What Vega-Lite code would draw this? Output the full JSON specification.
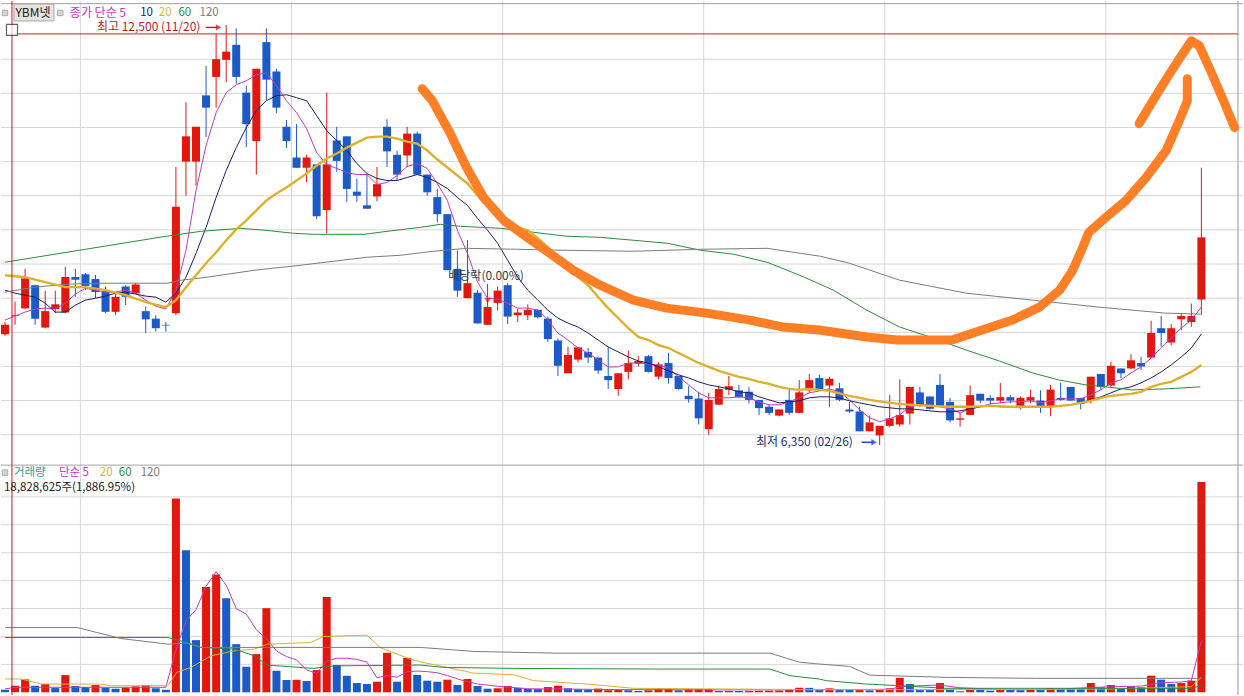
{
"$schema":"https://vega.github.io/schema/vega-lite/v6.json",
"width":1244,"height":696,"autosize":{"type":"fit","contains":"padding"},"padding":0,"background":"#ffffff",
"config":{"view":{"stroke":null},"axis":{"disable":true},"scale":{"continuousPadding":0}},
"resolve":{"scale":{"y":"independent"}},
"datasets":{
"k":[
{"i":0,"o":7970,"h":8150,"l":7950,"c":8110,"v":230000,"vd":"dn"},
{"i":1,"o":8240,"h":8450,"l":8110,"c":8250,"v":590000,"vd":"up"},
{"i":2,"o":8350,"h":8930,"l":8340,"c":8790,"v":1160000,"vd":"up"},
{"i":3,"o":8690,"h":8700,"l":8110,"c":8200,"v":590000,"vd":"dn"},
{"i":4,"o":8070,"h":8610,"l":8060,"c":8310,"v":740000,"vd":"up"},
{"i":5,"o":8340,"h":8610,"l":8280,"c":8410,"v":380000,"vd":"dn"},
{"i":6,"o":8290,"h":8960,"l":8280,"c":8810,"v":1540000,"vd":"up"},
{"i":7,"o":8810,"h":8930,"l":8520,"c":8770,"v":560000,"vd":"dn"},
{"i":8,"o":8850,"h":8870,"l":8620,"c":8680,"v":470000,"vd":"dn"},
{"i":9,"o":8780,"h":8840,"l":8500,"c":8590,"v":650000,"vd":"up"},
{"i":10,"o":8600,"h":8670,"l":8280,"c":8300,"v":410000,"vd":"dn"},
{"i":11,"o":8300,"h":8590,"l":8250,"c":8520,"v":320000,"vd":"dn"},
{"i":12,"o":8670,"h":8690,"l":8400,"c":8520,"v":410000,"vd":"up"},
{"i":13,"o":8570,"h":8720,"l":8570,"c":8700,"v":540000,"vd":"up"},
{"i":14,"o":8310,"h":8380,"l":7990,"c":8190,"v":650000,"vd":"up"},
{"i":15,"o":8200,"h":8250,"l":8010,"c":8060,"v":360000,"vd":"dn"},
{"i":16,"o":8110,"h":8150,"l":8010,"c":8100,"v":230000,"vd":"dn"},
{"i":17,"o":8280,"h":10420,"l":8250,"c":9840,"v":17350000,"vd":"up"},
{"i":18,"o":10500,"h":11370,"l":10000,"c":10870,"v":12710000,"vd":"dn"},
{"i":19,"o":10500,"h":11010,"l":10150,"c":11010,"v":4670000,"vd":"dn"},
{"i":20,"o":11470,"h":11900,"l":10860,"c":11290,"v":9430000,"vd":"up"},
{"i":21,"o":11740,"h":12370,"l":11290,"c":12000,"v":10560000,"vd":"up"},
{"i":22,"o":11990,"h":12500,"l":11660,"c":12110,"v":8420000,"vd":"dn"},
{"i":23,"o":12210,"h":12450,"l":11640,"c":11740,"v":4310000,"vd":"dn"},
{"i":24,"o":11510,"h":11610,"l":10710,"c":11050,"v":2290000,"vd":"dn"},
{"i":25,"o":10800,"h":11860,"l":10310,"c":11860,"v":3420000,"vd":"up"},
{"i":26,"o":12250,"h":12450,"l":11400,"c":11700,"v":7530000,"vd":"up"},
{"i":27,"o":11820,"h":11860,"l":11210,"c":11290,"v":1930000,"vd":"dn"},
{"i":28,"o":11010,"h":11110,"l":10700,"c":10800,"v":1100000,"vd":"dn"},
{"i":29,"o":10560,"h":11050,"l":10410,"c":10410,"v":1120000,"vd":"up"},
{"i":30,"o":10410,"h":10600,"l":10200,"c":10560,"v":1010000,"vd":"dn"},
{"i":31,"o":10460,"h":10460,"l":9660,"c":9700,"v":1990000,"vd":"up"},
{"i":32,"o":9790,"h":11510,"l":9450,"c":10460,"v":8540000,"vd":"up"},
{"i":33,"o":10810,"h":11010,"l":10350,"c":10510,"v":2440000,"vd":"dn"},
{"i":34,"o":10870,"h":10870,"l":9910,"c":10100,"v":1480000,"vd":"dn"},
{"i":35,"o":10060,"h":10250,"l":9910,"c":10000,"v":830000,"vd":"dn"},
{"i":36,"o":9860,"h":10320,"l":9810,"c":9810,"v":740000,"vd":"dn"},
{"i":37,"o":9990,"h":10420,"l":9920,"c":10170,"v":950000,"vd":"up"},
{"i":38,"o":11010,"h":11120,"l":10420,"c":10650,"v":3540000,"vd":"up"},
{"i":39,"o":10600,"h":10660,"l":10220,"c":10310,"v":950000,"vd":"dn"},
{"i":40,"o":10590,"h":11010,"l":10420,"c":10910,"v":3090000,"vd":"up"},
{"i":41,"o":10910,"h":10940,"l":10310,"c":10310,"v":1550000,"vd":"dn"},
{"i":42,"o":10310,"h":10310,"l":10000,"c":10050,"v":1040000,"vd":"dn"},
{"i":43,"o":9980,"h":10100,"l":9610,"c":9730,"v":950000,"vd":"dn"},
{"i":44,"o":9730,"h":9730,"l":8910,"c":8910,"v":1130000,"vd":"up"},
{"i":45,"o":8930,"h":9200,"l":8520,"c":8610,"v":650000,"vd":"dn"},
{"i":46,"o":8500,"h":9350,"l":8500,"c":8720,"v":1190000,"vd":"up"},
{"i":47,"o":8580,"h":8620,"l":8130,"c":8130,"v":560000,"vd":"dn"},
{"i":48,"o":8110,"h":8710,"l":8110,"c":8370,"v":320000,"vd":"dn"},
{"i":49,"o":8430,"h":8670,"l":8320,"c":8610,"v":360000,"vd":"up"},
{"i":50,"o":8690,"h":8720,"l":8120,"c":8230,"v":560000,"vd":"up"},
{"i":51,"o":8250,"h":8350,"l":8150,"c":8290,"v":380000,"vd":"dn"},
{"i":52,"o":8250,"h":8410,"l":8180,"c":8330,"v":300000,"vd":"dn"},
{"i":53,"o":8330,"h":8330,"l":8200,"c":8220,"v":290000,"vd":"dn"},
{"i":54,"o":8200,"h":8230,"l":7860,"c":7900,"v":470000,"vd":"up"},
{"i":55,"o":7880,"h":7910,"l":7360,"c":7510,"v":590000,"vd":"up"},
{"i":56,"o":7400,"h":7790,"l":7400,"c":7670,"v":360000,"vd":"dn"},
{"i":57,"o":7600,"h":7780,"l":7560,"c":7780,"v":270000,"vd":"dn"},
{"i":58,"o":7710,"h":7770,"l":7550,"c":7630,"v":230000,"vd":"dn"},
{"i":59,"o":7630,"h":7630,"l":7390,"c":7440,"v":330000,"vd":"up"},
{"i":60,"o":7360,"h":7790,"l":7170,"c":7300,"v":190000,"vd":"up"},
{"i":61,"o":7170,"h":7400,"l":7070,"c":7400,"v":200000,"vd":"up"},
{"i":62,"o":7420,"h":7730,"l":7310,"c":7550,"v":180000,"vd":"dn"},
{"i":63,"o":7540,"h":7650,"l":7500,"c":7580,"v":120000,"vd":"dn"},
{"i":64,"o":7650,"h":7670,"l":7410,"c":7420,"v":180000,"vd":"up"},
{"i":65,"o":7350,"h":7560,"l":7310,"c":7530,"v":270000,"vd":"up"},
{"i":66,"o":7550,"h":7700,"l":7250,"c":7330,"v":280000,"vd":"up"},
{"i":67,"o":7360,"h":7360,"l":7160,"c":7170,"v":180000,"vd":"dn"},
{"i":68,"o":7070,"h":7210,"l":6970,"c":7020,"v":270000,"vd":"up"},
{"i":69,"o":7030,"h":7130,"l":6650,"c":6740,"v":280000,"vd":"up"},
{"i":70,"o":6580,"h":7110,"l":6500,"c":7010,"v":290000,"vd":"up"},
{"i":71,"o":6940,"h":7220,"l":6940,"c":7170,"v":120000,"vd":"dn"},
{"i":72,"o":7160,"h":7360,"l":7080,"c":7210,"v":130000,"vd":"up"},
{"i":73,"o":7150,"h":7230,"l":7040,"c":7050,"v":120000,"vd":"dn"},
{"i":74,"o":7130,"h":7200,"l":6960,"c":7010,"v":130000,"vd":"up"},
{"i":75,"o":7010,"h":7010,"l":6790,"c":6890,"v":140000,"vd":"up"},
{"i":76,"o":6910,"h":6940,"l":6790,"c":6820,"v":150000,"vd":"up"},
{"i":77,"o":6780,"h":6870,"l":6770,"c":6870,"v":160000,"vd":"up"},
{"i":78,"o":7010,"h":7160,"l":6790,"c":6820,"v":270000,"vd":"up"},
{"i":79,"o":6820,"h":7300,"l":6820,"c":7120,"v":410000,"vd":"up"},
{"i":80,"o":7150,"h":7390,"l":7110,"c":7300,"v":400000,"vd":"dn"},
{"i":81,"o":7330,"h":7380,"l":7160,"c":7170,"v":270000,"vd":"dn"},
{"i":82,"o":7220,"h":7350,"l":6910,"c":7320,"v":357000,"vd":"up"},
{"i":83,"o":7180,"h":7260,"l":6990,"c":7010,"v":270000,"vd":"dn"},
{"i":84,"o":6870,"h":6980,"l":6820,"c":6840,"v":240000,"vd":"dn"},
{"i":85,"o":6840,"h":6910,"l":6550,"c":6550,"v":270000,"vd":"up"},
{"i":86,"o":6550,"h":6780,"l":6550,"c":6680,"v":180000,"vd":"dn"},
{"i":87,"o":6490,"h":6630,"l":6350,"c":6630,"v":290000,"vd":"up"},
{"i":88,"o":6630,"h":7080,"l":6610,"c":6740,"v":357000,"vd":"up"},
{"i":89,"o":6650,"h":7310,"l":6620,"c":6790,"v":1300000,"vd":"up"},
{"i":90,"o":6810,"h":7200,"l":6650,"c":7200,"v":741000,"vd":"dn"},
{"i":91,"o":7120,"h":7200,"l":6910,"c":6920,"v":232000,"vd":"dn"},
{"i":92,"o":7060,"h":7060,"l":6870,"c":6880,"v":205000,"vd":"dn"},
{"i":93,"o":7230,"h":7390,"l":6910,"c":6910,"v":830000,"vd":"up"},
{"i":94,"o":6980,"h":7040,"l":6680,"c":6710,"v":295000,"vd":"dn"},
{"i":95,"o":6720,"h":6820,"l":6620,"c":6740,"v":90000,"vd":"dn"},
{"i":96,"o":6790,"h":7220,"l":6790,"c":7080,"v":295000,"vd":"up"},
{"i":97,"o":7100,"h":7100,"l":6960,"c":7000,"v":205000,"vd":"dn"},
{"i":98,"o":7040,"h":7080,"l":6940,"c":7000,"v":150000,"vd":"dn"},
{"i":99,"o":7000,"h":7260,"l":6960,"c":7050,"v":295000,"vd":"up"},
{"i":100,"o":7050,"h":7080,"l":6960,"c":7000,"v":205000,"vd":"dn"},
{"i":101,"o":6920,"h":7060,"l":6870,"c":7040,"v":190000,"vd":"dn"},
{"i":102,"o":7000,"h":7160,"l":6960,"c":7050,"v":220000,"vd":"up"},
{"i":103,"o":7000,"h":7150,"l":6820,"c":6900,"v":200000,"vd":"dn"},
{"i":104,"o":6910,"h":7230,"l":6770,"c":7160,"v":380000,"vd":"up"},
{"i":105,"o":7040,"h":7260,"l":7000,"c":7010,"v":295000,"vd":"dn"},
{"i":106,"o":7200,"h":7200,"l":7000,"c":7000,"v":290000,"vd":"dn"},
{"i":107,"o":7040,"h":7040,"l":6870,"c":6950,"v":280000,"vd":"dn"},
{"i":108,"o":7000,"h":7350,"l":6960,"c":7350,"v":830000,"vd":"up"},
{"i":109,"o":7390,"h":7390,"l":7160,"c":7200,"v":446000,"vd":"dn"},
{"i":110,"o":7220,"h":7570,"l":7200,"c":7510,"v":650000,"vd":"up"},
{"i":111,"o":7470,"h":7470,"l":7330,"c":7400,"v":295000,"vd":"dn"},
{"i":112,"o":7470,"h":7680,"l":7460,"c":7590,"v":536000,"vd":"up"},
{"i":113,"o":7550,"h":7640,"l":7450,"c":7500,"v":446000,"vd":"dn"},
{"i":114,"o":7630,"h":8170,"l":7620,"c":7990,"v":1490000,"vd":"up"},
{"i":115,"o":8060,"h":8240,"l":7790,"c":7990,"v":1130000,"vd":"dn"},
{"i":116,"o":7850,"h":8120,"l":7810,"c":8060,"v":741000,"vd":"dn"},
{"i":117,"o":8190,"h":8270,"l":8030,"c":8240,"v":830000,"vd":"up"},
{"i":118,"o":8150,"h":8420,"l":8080,"c":8240,"v":1040000,"vd":"up"},
{"i":119,"o":8480,"h":10410,"l":8250,"c":9390,"v":18828625,"vd":"up"}
],
"ma":[
{"s":"m5","i":0,"p":8179},{"s":"m5","i":1,"p":8237},{"s":"m5","i":2,"p":8296},{"s":"m5","i":3,"p":8340},{"s":"m5","i":4,"p":8354},{"s":"m5","i":5,"p":8340},{"s":"m5","i":6,"p":8427},{"s":"m5","i":7,"p":8559},{"s":"m5","i":8,"p":8646},{"s":"m5","i":9,"p":8617},{"s":"m5","i":10,"p":8588},{"s":"m5","i":11,"p":8588},{"s":"m5","i":12,"p":8617},{"s":"m5","i":13,"p":8573},{"s":"m5","i":14,"p":8471},{"s":"m5","i":15,"p":8383},{"s":"m5","i":16,"p":8340},{"s":"m5","i":17,"p":8617},{"s":"m5","i":18,"p":9201},{"s":"m5","i":19,"p":10077},{"s":"m5","i":20,"p":10735},{"s":"m5","i":21,"p":11216},{"s":"m5","i":22,"p":11509},{"s":"m5","i":23,"p":11625},{"s":"m5","i":24,"p":11684},{"s":"m5","i":25,"p":11771},{"s":"m5","i":26,"p":11801},{"s":"m5","i":27,"p":11611},{"s":"m5","i":28,"p":11392},{"s":"m5","i":29,"p":11216},{"s":"m5","i":30,"p":10983},{"s":"m5","i":31,"p":10632},{"s":"m5","i":32,"p":10457},{"s":"m5","i":33,"p":10399},{"s":"m5","i":34,"p":10340},{"s":"m5","i":35,"p":10311},{"s":"m5","i":36,"p":10311},{"s":"m5","i":37,"p":10165},{"s":"m5","i":38,"p":10194},{"s":"m5","i":39,"p":10296},{"s":"m5","i":40,"p":10428},{"s":"m5","i":41,"p":10472},{"s":"m5","i":42,"p":10399},{"s":"m5","i":43,"p":10180},{"s":"m5","i":44,"p":9931},{"s":"m5","i":45,"p":9493},{"s":"m5","i":46,"p":9157},{"s":"m5","i":47,"p":8734},{"s":"m5","i":48,"p":8500},{"s":"m5","i":49,"p":8486},{"s":"m5","i":50,"p":8427},{"s":"m5","i":51,"p":8354},{"s":"m5","i":52,"p":8354},{"s":"m5","i":53,"p":8325},{"s":"m5","i":54,"p":8179},{"s":"m5","i":55,"p":7989},{"s":"m5","i":56,"p":7887},{"s":"m5","i":57,"p":7770},{"s":"m5","i":58,"p":7697},{"s":"m5","i":59,"p":7595},{"s":"m5","i":60,"p":7493},{"s":"m5","i":61,"p":7493},{"s":"m5","i":62,"p":7551},{"s":"m5","i":63,"p":7551},{"s":"m5","i":64,"p":7537},{"s":"m5","i":65,"p":7522},{"s":"m5","i":66,"p":7478},{"s":"m5","i":67,"p":7347},{"s":"m5","i":68,"p":7230},{"s":"m5","i":69,"p":7113},{"s":"m5","i":70,"p":7040},{"s":"m5","i":71,"p":7040},{"s":"m5","i":72,"p":7040},{"s":"m5","i":73,"p":7055},{"s":"m5","i":74,"p":7040},{"s":"m5","i":75,"p":6982},{"s":"m5","i":76,"p":6938},{"s":"m5","i":77,"p":6938},{"s":"m5","i":78,"p":6982},{"s":"m5","i":79,"p":7040},{"s":"m5","i":80,"p":7113},{"s":"m5","i":81,"p":7142},{"s":"m5","i":82,"p":7171},{"s":"m5","i":83,"p":7128},{"s":"m5","i":84,"p":7011},{"s":"m5","i":85,"p":6865},{"s":"m5","i":86,"p":6748},{"s":"m5","i":87,"p":6690},{"s":"m5","i":88,"p":6733},{"s":"m5","i":89,"p":6792},{"s":"m5","i":90,"p":6909},{"s":"m5","i":91,"p":6938},{"s":"m5","i":92,"p":6938},{"s":"m5","i":93,"p":6909},{"s":"m5","i":94,"p":6879},{"s":"m5","i":95,"p":6821},{"s":"m5","i":96,"p":6879},{"s":"m5","i":97,"p":6909},{"s":"m5","i":98,"p":6952},{"s":"m5","i":99,"p":6967},{"s":"m5","i":100,"p":6982},{"s":"m5","i":101,"p":6982},{"s":"m5","i":102,"p":6996},{"s":"m5","i":103,"p":6967},{"s":"m5","i":104,"p":6996},{"s":"m5","i":105,"p":7025},{"s":"m5","i":106,"p":7025},{"s":"m5","i":107,"p":7025},{"s":"m5","i":108,"p":7084},{"s":"m5","i":109,"p":7157},{"s":"m5","i":110,"p":7259},{"s":"m5","i":111,"p":7303},{"s":"m5","i":112,"p":7405},{"s":"m5","i":113,"p":7493},{"s":"m5","i":114,"p":7624},{"s":"m5","i":115,"p":7770},{"s":"m5","i":116,"p":7916},{"s":"m5","i":117,"p":8062},{"s":"m5","i":118,"p":8179},{"s":"m5","i":119,"p":8369},
{"s":"m10","i":0,"p":8617},{"s":"m10","i":1,"p":8573},{"s":"m10","i":2,"p":8544},{"s":"m10","i":3,"p":8515},{"s":"m10","i":4,"p":8427},{"s":"m10","i":5,"p":8296},{"s":"m10","i":6,"p":8296},{"s":"m10","i":7,"p":8398},{"s":"m10","i":8,"p":8471},{"s":"m10","i":9,"p":8500},{"s":"m10","i":10,"p":8530},{"s":"m10","i":11,"p":8573},{"s":"m10","i":12,"p":8588},{"s":"m10","i":13,"p":8559},{"s":"m10","i":14,"p":8530},{"s":"m10","i":15,"p":8515},{"s":"m10","i":16,"p":8442},{"s":"m10","i":17,"p":8573},{"s":"m10","i":18,"p":8807},{"s":"m10","i":19,"p":9157},{"s":"m10","i":20,"p":9537},{"s":"m10","i":21,"p":9975},{"s":"m10","i":22,"p":10369},{"s":"m10","i":23,"p":10705},{"s":"m10","i":24,"p":10998},{"s":"m10","i":25,"p":11246},{"s":"m10","i":26,"p":11392},{"s":"m10","i":27,"p":11465},{"s":"m10","i":28,"p":11479},{"s":"m10","i":29,"p":11436},{"s":"m10","i":30,"p":11392},{"s":"m10","i":31,"p":11173},{"s":"m10","i":32,"p":10954},{"s":"m10","i":33,"p":10808},{"s":"m10","i":34,"p":10662},{"s":"m10","i":35,"p":10472},{"s":"m10","i":36,"p":10326},{"s":"m10","i":37,"p":10253},{"s":"m10","i":38,"p":10223},{"s":"m10","i":39,"p":10223},{"s":"m10","i":40,"p":10267},{"s":"m10","i":41,"p":10311},{"s":"m10","i":42,"p":10267},{"s":"m10","i":43,"p":10194},{"s":"m10","i":44,"p":10107},{"s":"m10","i":45,"p":9975},{"s":"m10","i":46,"p":9858},{"s":"m10","i":47,"p":9669},{"s":"m10","i":48,"p":9493},{"s":"m10","i":49,"p":9304},{"s":"m10","i":50,"p":9055},{"s":"m10","i":51,"p":8807},{"s":"m10","i":52,"p":8617},{"s":"m10","i":53,"p":8471},{"s":"m10","i":54,"p":8325},{"s":"m10","i":55,"p":8208},{"s":"m10","i":56,"p":8135},{"s":"m10","i":57,"p":8077},{"s":"m10","i":58,"p":7989},{"s":"m10","i":59,"p":7887},{"s":"m10","i":60,"p":7785},{"s":"m10","i":61,"p":7712},{"s":"m10","i":62,"p":7639},{"s":"m10","i":63,"p":7580},{"s":"m10","i":64,"p":7551},{"s":"m10","i":65,"p":7493},{"s":"m10","i":66,"p":7434},{"s":"m10","i":67,"p":7376},{"s":"m10","i":68,"p":7332},{"s":"m10","i":69,"p":7274},{"s":"m10","i":70,"p":7230},{"s":"m10","i":71,"p":7201},{"s":"m10","i":72,"p":7171},{"s":"m10","i":73,"p":7128},{"s":"m10","i":74,"p":7113},{"s":"m10","i":75,"p":7055},{"s":"m10","i":76,"p":7011},{"s":"m10","i":77,"p":6967},{"s":"m10","i":78,"p":6982},{"s":"m10","i":79,"p":6996},{"s":"m10","i":80,"p":7040},{"s":"m10","i":81,"p":7055},{"s":"m10","i":82,"p":7055},{"s":"m10","i":83,"p":7040},{"s":"m10","i":84,"p":6996},{"s":"m10","i":85,"p":6967},{"s":"m10","i":86,"p":6938},{"s":"m10","i":87,"p":6909},{"s":"m10","i":88,"p":6894},{"s":"m10","i":89,"p":6879},{"s":"m10","i":90,"p":6879},{"s":"m10","i":91,"p":6865},{"s":"m10","i":92,"p":6850},{"s":"m10","i":93,"p":6836},{"s":"m10","i":94,"p":6836},{"s":"m10","i":95,"p":6850},{"s":"m10","i":96,"p":6879},{"s":"m10","i":97,"p":6909},{"s":"m10","i":98,"p":6923},{"s":"m10","i":99,"p":6909},{"s":"m10","i":100,"p":6909},{"s":"m10","i":101,"p":6909},{"s":"m10","i":102,"p":6909},{"s":"m10","i":103,"p":6909},{"s":"m10","i":104,"p":6909},{"s":"m10","i":105,"p":6923},{"s":"m10","i":106,"p":6938},{"s":"m10","i":107,"p":6967},{"s":"m10","i":108,"p":7011},{"s":"m10","i":109,"p":7055},{"s":"m10","i":110,"p":7113},{"s":"m10","i":111,"p":7171},{"s":"m10","i":112,"p":7201},{"s":"m10","i":113,"p":7259},{"s":"m10","i":114,"p":7332},{"s":"m10","i":115,"p":7420},{"s":"m10","i":116,"p":7522},{"s":"m10","i":117,"p":7639},{"s":"m10","i":118,"p":7770},{"s":"m10","i":119,"p":7975},
{"s":"m20","i":0,"p":8836},{"s":"m20","i":2,"p":8807},{"s":"m20","i":4,"p":8734},{"s":"m20","i":6,"p":8661},{"s":"m20","i":8,"p":8661},{"s":"m20","i":10,"p":8617},{"s":"m20","i":12,"p":8544},{"s":"m20","i":14,"p":8442},{"s":"m20","i":16,"p":8369},{"s":"m20","i":17,"p":8470},{"s":"m20","i":18,"p":8660},{"s":"m20","i":19,"p":8836},{"s":"m20","i":20,"p":9011},{"s":"m20","i":21,"p":9172},{"s":"m20","i":22,"p":9347},{"s":"m20","i":23,"p":9508},{"s":"m20","i":24,"p":9639},{"s":"m20","i":25,"p":9785},{"s":"m20","i":26,"p":9931},{"s":"m20","i":27,"p":10034},{"s":"m20","i":28,"p":10121},{"s":"m20","i":29,"p":10223},{"s":"m20","i":30,"p":10326},{"s":"m20","i":31,"p":10443},{"s":"m20","i":32,"p":10545},{"s":"m20","i":33,"p":10618},{"s":"m20","i":34,"p":10705},{"s":"m20","i":35,"p":10778},{"s":"m20","i":36,"p":10851},{"s":"m20","i":37,"p":10866},{"s":"m20","i":38,"p":10866},{"s":"m20","i":39,"p":10837},{"s":"m20","i":40,"p":10793},{"s":"m20","i":41,"p":10764},{"s":"m20","i":42,"p":10662},{"s":"m20","i":43,"p":10530},{"s":"m20","i":44,"p":10413},{"s":"m20","i":45,"p":10296},{"s":"m20","i":46,"p":10180},{"s":"m20","i":47,"p":10004},{"s":"m20","i":48,"p":9844},{"s":"m20","i":49,"p":9712},{"s":"m20","i":50,"p":9610},{"s":"m20","i":51,"p":9537},{"s":"m20","i":52,"p":9493},{"s":"m20","i":53,"p":9377},{"s":"m20","i":54,"p":9245},{"s":"m20","i":55,"p":9099},{"s":"m20","i":56,"p":8938},{"s":"m20","i":57,"p":8807},{"s":"m20","i":58,"p":8690},{"s":"m20","i":59,"p":8515},{"s":"m20","i":60,"p":8354},{"s":"m20","i":61,"p":8208},{"s":"m20","i":62,"p":8062},{"s":"m20","i":63,"p":7931},{"s":"m20","i":64,"p":7887},{"s":"m20","i":65,"p":7814},{"s":"m20","i":66,"p":7770},{"s":"m20","i":67,"p":7697},{"s":"m20","i":68,"p":7624},{"s":"m20","i":69,"p":7551},{"s":"m20","i":70,"p":7493},{"s":"m20","i":71,"p":7434},{"s":"m20","i":72,"p":7391},{"s":"m20","i":73,"p":7347},{"s":"m20","i":74,"p":7317},{"s":"m20","i":75,"p":7274},{"s":"m20","i":76,"p":7244},{"s":"m20","i":77,"p":7201},{"s":"m20","i":78,"p":7171},{"s":"m20","i":79,"p":7157},{"s":"m20","i":80,"p":7171},{"s":"m20","i":82,"p":7142},{"s":"m20","i":84,"p":7069},{"s":"m20","i":86,"p":7011},{"s":"m20","i":88,"p":6967},{"s":"m20","i":90,"p":6938},{"s":"m20","i":92,"p":6923},{"s":"m20","i":94,"p":6909},{"s":"m20","i":96,"p":6909},{"s":"m20","i":98,"p":6923},{"s":"m20","i":100,"p":6909},{"s":"m20","i":102,"p":6909},{"s":"m20","i":104,"p":6909},{"s":"m20","i":106,"p":6938},{"s":"m20","i":108,"p":6996},{"s":"m20","i":109,"p":7040},{"s":"m20","i":110,"p":7069},{"s":"m20","i":112,"p":7098},{"s":"m20","i":113,"p":7128},{"s":"m20","i":114,"p":7201},{"s":"m20","i":115,"p":7244},{"s":"m20","i":116,"p":7274},{"s":"m20","i":117,"p":7347},{"s":"m20","i":118,"p":7420},{"s":"m20","i":119,"p":7522},
{"s":"m60","i":0,"p":9026},{"s":"m60","i":8,"p":9216},{"s":"m60","i":16,"p":9406},{"s":"m60","i":19.5,"p":9479},{"s":"m60","i":23.4,"p":9523},{"s":"m60","i":26,"p":9493},{"s":"m60","i":28.7,"p":9450},{"s":"m60","i":30.7,"p":9435},{"s":"m60","i":35.7,"p":9435},{"s":"m60","i":38,"p":9479},{"s":"m60","i":41.3,"p":9537},{"s":"m60","i":43.3,"p":9581},{"s":"m60","i":45.3,"p":9552},{"s":"m60","i":49.3,"p":9523},{"s":"m60","i":52.6,"p":9464},{"s":"m60","i":55.9,"p":9406},{"s":"m60","i":59.2,"p":9391},{"s":"m60","i":62.6,"p":9347},{"s":"m60","i":65.9,"p":9304},{"s":"m60","i":69.2,"p":9201},{"s":"m60","i":72.5,"p":9143},{"s":"m60","i":75.8,"p":9026},{"s":"m60","i":77.8,"p":8909},{"s":"m60","i":79.5,"p":8807},{"s":"m60","i":82.4,"p":8617},{"s":"m60","i":85.7,"p":8325},{"s":"m60","i":89,"p":8077},{"s":"m60","i":92.3,"p":7916},{"s":"m60","i":95.6,"p":7741},{"s":"m60","i":98.9,"p":7580},{"s":"m60","i":102.2,"p":7405},{"s":"m60","i":104.8,"p":7303},{"s":"m60","i":107.5,"p":7230},{"s":"m60","i":109.5,"p":7201},{"s":"m60","i":112.1,"p":7157},{"s":"m60","i":115.4,"p":7171},{"s":"m60","i":118.9,"p":7201},
{"s":"m120","i":0,"p":8588},{"s":"m120","i":3,"p":8661},{"s":"m120","i":6.2,"p":8705},{"s":"m120","i":9.5,"p":8719},{"s":"m120","i":12.8,"p":8719},{"s":"m120","i":16.2,"p":8719},{"s":"m120","i":17.5,"p":8763},{"s":"m120","i":20.1,"p":8807},{"s":"m120","i":24.8,"p":8909},{"s":"m120","i":29.4,"p":8982},{"s":"m120","i":32.7,"p":9041},{"s":"m120","i":36,"p":9099},{"s":"m120","i":39.3,"p":9128},{"s":"m120","i":42.6,"p":9187},{"s":"m120","i":45.9,"p":9230},{"s":"m120","i":50.9,"p":9216},{"s":"m120","i":55.9,"p":9201},{"s":"m120","i":62.5,"p":9187},{"s":"m120","i":69.2,"p":9216},{"s":"m120","i":75.8,"p":9230},{"s":"m120","i":79.1,"p":9157},{"s":"m120","i":81.1,"p":9114},{"s":"m120","i":84,"p":9011},{"s":"m120","i":89,"p":8763},{"s":"m120","i":95.6,"p":8573},{"s":"m120","i":102.2,"p":8471},{"s":"m120","i":108.8,"p":8369},{"s":"m120","i":115.4,"p":8281},{"s":"m120","i":118.9,"p":8267}
],
"vma":[
{"s":"m5","i":0,"v":300000},{"s":"m5","i":1,"v":446000},{"s":"m5","i":16,"v":446000},{"s":"m5","i":17,"v":3800000},{"s":"m5","i":18,"v":6400000},{"s":"m5","i":19,"v":7400000},{"s":"m5","i":20,"v":9500000},{"s":"m5","i":21,"v":10800000},{"s":"m5","i":22,"v":9600000},{"s":"m5","i":23,"v":7500000},{"s":"m5","i":24,"v":7000000},{"s":"m5","i":25,"v":5600000},{"s":"m5","i":26,"v":4800000},{"s":"m5","i":27,"v":3700000},{"s":"m5","i":28,"v":3200000},{"s":"m5","i":29,"v":2900000},{"s":"m5","i":30,"v":2000000},{"s":"m5","i":31,"v":1700000},{"s":"m5","i":32,"v":2800000},{"s":"m5","i":33,"v":3050000},{"s":"m5","i":34,"v":3050000},{"s":"m5","i":35,"v":2950000},{"s":"m5","i":36,"v":2700000},{"s":"m5","i":37,"v":1300000},{"s":"m5","i":38,"v":1500000},{"s":"m5","i":39,"v":1350000},{"s":"m5","i":40,"v":1850000},{"s":"m5","i":41,"v":1900000},{"s":"m5","i":42,"v":1850000},{"s":"m5","i":43,"v":1750000},{"s":"m5","i":44,"v":1500000},{"s":"m5","i":45,"v":1200000},{"s":"m5","i":46,"v":950000},{"s":"m5","i":47,"v":750000},{"s":"m5","i":48,"v":640000},{"s":"m5","i":49,"v":540000},{"s":"m5","i":50,"v":470000},{"s":"m5","i":51,"v":400000},{"s":"m5","i":52,"v":320000},{"s":"m5","i":53,"v":310000},{"s":"m5","i":55,"v":300000},{"s":"m5","i":60,"v":250000},{"s":"m5","i":70,"v":220000},{"s":"m5","i":80,"v":230000},{"s":"m5","i":88,"v":270000},{"s":"m5","i":89,"v":480000},{"s":"m5","i":90,"v":560000},{"s":"m5","i":93,"v":650000},{"s":"m5","i":95,"v":400000},{"s":"m5","i":100,"v":230000},{"s":"m5","i":104,"v":260000},{"s":"m5","i":108,"v":420000},{"s":"m5","i":110,"v":500000},{"s":"m5","i":113,"v":550000},{"s":"m5","i":115,"v":850000},{"s":"m5","i":117,"v":920000},{"s":"m5","i":118,"v":1040000},{"s":"m5","i":119,"v":4600000},
{"s":"m20","i":0,"v":1190000},{"s":"m20","i":1.6,"v":1190000},{"s":"m20","i":3.6,"v":741000},{"s":"m20","i":9.5,"v":741000},{"s":"m20","i":10.5,"v":589000},{"s":"m20","i":16.2,"v":589000},{"s":"m20","i":17.1,"v":1790000},{"s":"m20","i":18.5,"v":2230000},{"s":"m20","i":20.5,"v":3270000},{"s":"m20","i":22.8,"v":3710000},{"s":"m20","i":24.8,"v":3870000},{"s":"m20","i":26.1,"v":4310000},{"s":"m20","i":30.4,"v":4460000},{"s":"m20","i":31.7,"v":5000000},{"s":"m20","i":36,"v":5120000},{"s":"m20","i":37.3,"v":4020000},{"s":"m20","i":40.3,"v":2970000},{"s":"m20","i":41.3,"v":2730000},{"s":"m20","i":44,"v":2230000},{"s":"m20","i":46.6,"v":1720000},{"s":"m20","i":50.6,"v":1570000},{"s":"m20","i":52.6,"v":1040000},{"s":"m20","i":57.9,"v":741000},{"s":"m20","i":62.5,"v":357000},{"s":"m20","i":81,"v":232000},{"s":"m20","i":100,"v":250000},{"s":"m20","i":110,"v":300000},{"s":"m20","i":118,"v":500000},{"s":"m20","i":119,"v":1340000},
{"s":"m60","i":0,"v":4910000},{"s":"m60","i":16.2,"v":4910000},{"s":"m60","i":18.1,"v":4460000},{"s":"m60","i":19.5,"v":4020000},{"s":"m60","i":22.8,"v":3870000},{"s":"m60","i":24.8,"v":3270000},{"s":"m60","i":26.1,"v":2440000},{"s":"m60","i":30.7,"v":2140000},{"s":"m60","i":32.7,"v":2370000},{"s":"m60","i":41.3,"v":2440000},{"s":"m60","i":43.6,"v":2230000},{"s":"m60","i":50.6,"v":2140000},{"s":"m60","i":65.5,"v":2080000},{"s":"m60","i":76.1,"v":2080000},{"s":"m60","i":78.1,"v":1480000},{"s":"m60","i":81,"v":1190000},{"s":"m60","i":81.7,"v":1040000},{"s":"m60","i":85.7,"v":741000},{"s":"m60","i":89,"v":589000},{"s":"m60","i":93.6,"v":357000},{"s":"m60","i":118,"v":357000},{"s":"m60","i":119,"v":600000},
{"s":"m120","i":0,"v":5800000},{"s":"m120","i":7.2,"v":5800000},{"s":"m120","i":8.9,"v":5410000},{"s":"m120","i":11.5,"v":4820000},{"s":"m120","i":16.2,"v":4310000},{"s":"m120","i":18.1,"v":4400000},{"s":"m120","i":19.5,"v":4020000},{"s":"m120","i":41.3,"v":4020000},{"s":"m120","i":44.6,"v":3800000},{"s":"m120","i":46.6,"v":3660000},{"s":"m120","i":54.6,"v":3510000},{"s":"m120","i":76.1,"v":3510000},{"s":"m120","i":79,"v":2700000},{"s":"m120","i":81,"v":2530000},{"s":"m120","i":84,"v":2320000},{"s":"m120","i":86,"v":1540000},{"s":"m120","i":93.6,"v":1340000},{"s":"m120","i":102.5,"v":1250000},{"s":"m120","i":119,"v":1250000}
],
"ann":[
{"g":1,"n":1,"i":41.5,"p":11567},{"g":1,"n":2,"i":42.5,"p":11392},{"g":1,"n":3,"i":44.3,"p":10910},{"g":1,"n":4,"i":45.9,"p":10418},{"g":1,"n":5,"i":47.6,"p":9975},{"g":1,"n":6,"i":49.6,"p":9639},{"g":1,"n":7,"i":51.9,"p":9396},{"g":1,"n":8,"i":54.2,"p":9157},{"g":1,"n":9,"i":56.5,"p":8909},{"g":1,"n":10,"i":59.2,"p":8690},{"g":1,"n":11,"i":62.5,"p":8471},{"g":1,"n":12,"i":65.8,"p":8354},{"g":1,"n":13,"i":69.8,"p":8281},{"g":1,"n":14,"i":74.1,"p":8179},{"g":1,"n":15,"i":77.4,"p":8077},{"g":1,"n":16,"i":81.0,"p":8033},{"g":1,"n":17,"i":85.7,"p":7931},{"g":1,"n":18,"i":88.7,"p":7887},{"g":1,"n":19,"i":94.2,"p":7887},{"g":1,"n":20,"i":97.2,"p":8033},{"g":1,"n":21,"i":100.2,"p":8179},{"g":1,"n":22,"i":102.9,"p":8369},{"g":1,"n":23,"i":104.9,"p":8617},{"g":1,"n":24,"i":106.2,"p":8909},{"g":1,"n":25,"i":107.2,"p":9245},{"g":1,"n":26,"i":107.8,"p":9464},{"g":1,"n":27,"i":109.5,"p":9683},{"g":1,"n":28,"i":111.5,"p":9931},{"g":1,"n":29,"i":113.5,"p":10267},{"g":1,"n":30,"i":115.5,"p":10662},{"g":1,"n":31,"i":116.8,"p":11100},{"g":1,"n":32,"i":117.6,"p":11392},{"g":1,"n":33,"i":117.6,"p":11713},
{"g":2,"n":1,"i":112.8,"p":11056},{"g":2,"n":2,"i":114.0,"p":11348},{"g":2,"n":3,"i":115.4,"p":11684},{"g":2,"n":4,"i":116.8,"p":12005},{"g":2,"n":5,"i":118.0,"p":12268},{"g":2,"n":6,"i":118.8,"p":12195},{"g":2,"n":7,"i":120.0,"p":11801},{"g":2,"n":8,"i":121.2,"p":11392},{"g":2,"n":9,"i":122.3,"p":10997}
],
"gx":[{"i":7.5},{"i":28.5},{"i":49.5},{"i":69.5},{"i":87.5},{"i":109.5}],
"gy":[{"p":6500},{"p":7000},{"p":7500},{"p":8000},{"p":8500},{"p":9000},{"p":9500},{"p":10000},{"p":10500},{"p":11000},{"p":11500},{"p":12000}],
"gv":[{"v":2500000},{"v":5000000},{"v":7500000},{"v":10000000},{"v":12500000},{"v":15000000},{"v":17500000}],
"txt":[
{"t":"YBM넷","i":1.04,"p":12677,"k":"blk"},
{"t":"종가 단순 5","i":6.45,"p":12677,"k":"m5"},
{"t":"최고 12,500 (11/20)","i":9.14,"p":12465,"k":"hi"},
{"t":"배당락(0.00%)","i":44.09,"p":8822,"k":"gry"},
{"t":"최저 6,350 (02/26)","i":74.7,"p":6390,"k":"lo"}
],
"ntxt":[
{"t":"10","i":13.45,"p":12677,"k":"m10"},
{"t":"20","i":15.3,"p":12677,"k":"m20"},
{"t":"60","i":17.25,"p":12677,"k":"m60"},
{"t":"120","i":19.35,"p":12677,"k":"m120"}
],
"vtxt":[
{"t":"거래량","i":0.89,"v":19670000,"k":"vol"},
{"t":"단순 5","i":5.36,"v":19670000,"k":"m5"},
{"t":"20","i":9.43,"v":19670000,"k":"m20"},
{"t":"60","i":11.32,"v":19670000,"k":"m60"},
{"t":"120","i":13.5,"v":19670000,"k":"m120"},
{"t":"18,828,625주(1,886.95%)","i":-0.1,"v":18330000,"k":"blk"}
]
},
"layer":[
{"data":{"name":"gy"},"mark":{"type":"rule","color":"#d6d6d6","strokeWidth":1},
"encoding":{"y":{"field":"p","type":"quantitative","scale":{"domain":[2688.3,12852],"nice":false,"zero":false}}}},
{"data":{"name":"gv"},"mark":{"type":"rule","color":"#d6d6d6","strokeWidth":1},
"encoding":{"y":{"field":"v","type":"quantitative","scale":{"domain":[-241000,61902000],"nice":false,"zero":false}}}},
{"data":{"name":"gx"},"mark":{"type":"rule","color":"#d6d6d6","strokeWidth":1},
"encoding":{"x":{"field":"i","type":"quantitative","scale":{"domain":[-0.397,123.14],"nice":false,"zero":false,"padding":0}}}},
{"data":{"name":"k"},"mark":{"type":"rule","strokeWidth":1},
"encoding":{
"x":{"field":"i","type":"quantitative","scale":{"domain":[-0.397,123.14],"nice":false,"zero":false,"padding":0}},
"y":{"field":"l","type":"quantitative","scale":{"domain":[2688.3,12852],"nice":false,"zero":false}},
"y2":{"field":"h"},
"color":{"condition":{"test":"datum.c >= datum.o","value":"#E3170E"},"value":"#1C5AC8"}}},
{"data":{"name":"k"},"mark":{"type":"bar","width":8,"orient":"vertical"},
"encoding":{
"x":{"field":"i","type":"quantitative","scale":{"domain":[-0.397,123.14],"nice":false,"zero":false,"padding":0}},
"y":{"field":"o","type":"quantitative","scale":{"domain":[2688.3,12852],"nice":false,"zero":false,"padding":0}},
"y2":{"field":"c"},
"color":{"condition":{"test":"datum.c >= datum.o","value":"#E3170E"},"value":"#1C5AC8"}}},
{"data":{"name":"k"},"mark":{"type":"bar","width":8,"orient":"vertical"},
"encoding":{
"x":{"field":"i","type":"quantitative","scale":{"domain":[-0.397,123.14],"nice":false,"zero":false,"padding":0}},
"y":{"field":"v","type":"quantitative","scale":{"domain":[-241000,61902000],"nice":false,"zero":false,"padding":0}},
"y2":{"datum":0},
"color":{"field":"vd","type":"nominal","scale":{"domain":["up","dn","m5","m10","m20","m60","m120","blk","hi","lo","vol","gry"],"range":["#E3170E","#1C5AC8","#C03CBE","#1B2060","#DDB12E","#2F8A3C","#7C7C7C","#222222","#B41E1E","#1A2A80","#3B9795","#3A3A3A"]},"legend":null}}},
{"data":{"name":"ma"},"transform":[{"filter":"datum.s != 'm20'"}],"mark":{"type":"line","strokeWidth":1},
"encoding":{
"x":{"field":"i","type":"quantitative","scale":{"domain":[-0.397,123.14],"nice":false,"zero":false,"padding":0}},
"y":{"field":"p","type":"quantitative","scale":{"domain":[2688.3,12852],"nice":false,"zero":false}},
"color":{"field":"s","type":"nominal","scale":{"domain":["up","dn","m5","m10","m20","m60","m120","blk","hi","lo","vol","gry"],"range":["#E3170E","#1C5AC8","#C03CBE","#1B2060","#DDB12E","#2F8A3C","#7C7C7C","#222222","#B41E1E","#1A2A80","#3B9795","#3A3A3A"]},"legend":null}}},
{"data":{"name":"ma"},"transform":[{"filter":"datum.s == 'm20'"}],"mark":{"type":"line","strokeWidth":2.4,"color":"#DDB12E"},
"encoding":{
"x":{"field":"i","type":"quantitative","scale":{"domain":[-0.397,123.14],"nice":false,"zero":false,"padding":0}},
"y":{"field":"p","type":"quantitative","scale":{"domain":[2688.3,12852],"nice":false,"zero":false}}}},
{"data":{"name":"vma"},"mark":{"type":"line","strokeWidth":1},
"encoding":{
"x":{"field":"i","type":"quantitative","scale":{"domain":[-0.397,123.14],"nice":false,"zero":false,"padding":0}},
"y":{"field":"v","type":"quantitative","scale":{"domain":[-241000,61902000],"nice":false,"zero":false}},
"color":{"field":"s","type":"nominal","scale":{"domain":["up","dn","m5","m10","m20","m60","m120","blk","hi","lo","vol","gry"],"range":["#E3170E","#1C5AC8","#C03CBE","#1B2060","#DDB12E","#2F8A3C","#7C7C7C","#222222","#B41E1E","#1A2A80","#3B9795","#3A3A3A"]},"legend":null}}},
{"data":{"values":[{}]},"mark":{"type":"rule","color":"#a0a0a0","strokeWidth":1},
"encoding":{"y":{"datum":12813,"type":"quantitative","scale":{"domain":[2688.3,12852],"nice":false,"zero":false}}}},
{"data":{"values":[{}]},"mark":{"type":"rule","color":"#a0a0a0","strokeWidth":1},
"encoding":{"y":{"datum":6055,"type":"quantitative","scale":{"domain":[2688.3,12852],"nice":false,"zero":false}}}},
{"data":{"values":[{}]},"mark":{"type":"rule","color":"#9a9a9a","strokeWidth":1},
"encoding":{"x":{"datum":122.64,"type":"quantitative","scale":{"domain":[-0.397,123.14],"nice":false,"zero":false,"padding":0}}}},
{"data":{"values":[{}]},"mark":{"type":"rule","color":"#D81818","strokeWidth":1},
"encoding":{"x":{"datum":1.3,"type":"quantitative","scale":{"domain":[-0.397,123.14],"nice":false,"zero":false,"padding":0}},"x2":{"datum":122.64},"y":{"datum":12370,"type":"quantitative","scale":{"domain":[2688.3,12852],"nice":false,"zero":false}}}},
{"data":{"values":[{}]},"mark":{"type":"rule","color":"#C81818","strokeWidth":1},
"encoding":{"x":{"datum":0.695,"type":"quantitative","scale":{"domain":[-0.397,123.14],"nice":false,"zero":false,"padding":0}}}},
{"data":{"name":"ann"},"mark":{"type":"line","color":"#FF7F27","strokeWidth":9,"strokeCap":"round","strokeJoin":"round"},
"encoding":{
"x":{"field":"i","type":"quantitative","scale":{"domain":[-0.397,123.14],"nice":false,"zero":false,"padding":0}},
"y":{"field":"p","type":"quantitative","scale":{"domain":[2688.3,12852],"nice":false,"zero":false}},
"detail":{"field":"g","type":"nominal"},
"order":{"field":"n","type":"quantitative"}}},
{"data":{"values":[{}]},"mark":{"type":"rect","fill":"#e4e4e4","stroke":"#a8a8a8","strokeWidth":1},
"encoding":{"x":{"datum":0.89,"type":"quantitative","scale":{"domain":[-0.397,123.14],"nice":false,"zero":false,"padding":0}},"x2":{"datum":4.87},"y":{"datum":12808,"type":"quantitative","scale":{"domain":[2688.3,12852],"nice":false,"zero":false}},"y2":{"datum":12560}}},
{"data":{"values":[{}]},"mark":{"type":"point","shape":"square","size":30,"filled":true,"fill":"#c4c4c4","stroke":"#8a8a8a","strokeWidth":1},
"encoding":{"x":{"datum":0,"type":"quantitative","scale":{"domain":[-0.397,123.14],"nice":false,"zero":false,"padding":0}},"y":{"datum":12677,"type":"quantitative","scale":{"domain":[2688.3,12852],"nice":false,"zero":false}}}},
{"data":{"values":[{}]},"mark":{"type":"point","shape":"square","size":30,"filled":true,"fill":"#c4c4c4","stroke":"#8a8a8a","strokeWidth":1},
"encoding":{"x":{"datum":5.5,"type":"quantitative","scale":{"domain":[-0.397,123.14],"nice":false,"zero":false,"padding":0}},"y":{"datum":12677,"type":"quantitative","scale":{"domain":[2688.3,12852],"nice":false,"zero":false}}}},
{"data":{"values":[{}]},"mark":{"type":"point","shape":"square","size":30,"filled":true,"fill":"#c4c4c4","stroke":"#8a8a8a","strokeWidth":1},
"encoding":{"x":{"datum":0,"type":"quantitative","scale":{"domain":[-0.397,123.14],"nice":false,"zero":false,"padding":0}},"y":{"datum":19670000,"type":"quantitative","scale":{"domain":[-241000,61902000],"nice":false,"zero":false}}}},
{"data":{"values":[{}]},"mark":{"type":"point","shape":"square","size":121,"filled":true,"fill":"#ffffff","stroke":"#222222","strokeWidth":1.2},
"encoding":{"x":{"datum":0.695,"type":"quantitative","scale":{"domain":[-0.397,123.14],"nice":false,"zero":false,"padding":0}},"y":{"datum":12428,"type":"quantitative","scale":{"domain":[2688.3,12852],"nice":false,"zero":false}}}},
{"data":{"values":[{}]},"mark":{"type":"point","shape":"triangle-down","size":45,"filled":true,"color":"#E3170E"},
"encoding":{"x":{"datum":48,"type":"quantitative","scale":{"domain":[-0.397,123.14],"nice":false,"zero":false,"padding":0}},"y":{"datum":8464,"type":"quantitative","scale":{"domain":[2688.3,12852],"nice":false,"zero":false}}}},
{"data":{"values":[{}]},"mark":{"type":"rule","color":"#E00000","strokeWidth":1.3},
"encoding":{"x":{"datum":19.96,"type":"quantitative","scale":{"domain":[-0.397,123.14],"nice":false,"zero":false,"padding":0}},"x2":{"datum":21.1},"y":{"datum":12465,"type":"quantitative","scale":{"domain":[2688.3,12852],"nice":false,"zero":false}}}},
{"data":{"values":[{}]},"mark":{"type":"point","shape":"triangle-right","size":40,"filled":true,"color":"#E00000"},
"encoding":{"x":{"datum":21.25,"type":"quantitative","scale":{"domain":[-0.397,123.14],"nice":false,"zero":false,"padding":0}},"y":{"datum":12465,"type":"quantitative","scale":{"domain":[2688.3,12852],"nice":false,"zero":false}}}},
{"data":{"values":[{}]},"mark":{"type":"rule","color":"#1028D0","strokeWidth":1.3},
"encoding":{"x":{"datum":85.2,"type":"quantitative","scale":{"domain":[-0.397,123.14],"nice":false,"zero":false,"padding":0}},"x2":{"datum":86.3},"y":{"datum":6390,"type":"quantitative","scale":{"domain":[2688.3,12852],"nice":false,"zero":false}}}},
{"data":{"values":[{}]},"mark":{"type":"point","shape":"triangle-right","size":40,"filled":true,"color":"#1028D0"},
"encoding":{"x":{"datum":86.45,"type":"quantitative","scale":{"domain":[-0.397,123.14],"nice":false,"zero":false,"padding":0}},"y":{"datum":6390,"type":"quantitative","scale":{"domain":[2688.3,12852],"nice":false,"zero":false}}}},
{"data":{"name":"txt"},"mark":{"type":"text","align":"left","baseline":"middle","font":"Noto Sans CJK KR","fontSize":12},
"encoding":{
"x":{"field":"i","type":"quantitative","scale":{"domain":[-0.397,123.14],"nice":false,"zero":false,"padding":0}},
"y":{"field":"p","type":"quantitative","scale":{"domain":[2688.3,12852],"nice":false,"zero":false}},
"text":{"field":"t"},
"color":{"field":"k","type":"nominal","scale":{"domain":["up","dn","m5","m10","m20","m60","m120","blk","hi","lo","vol","gry"],"range":["#E3170E","#1C5AC8","#C03CBE","#1B2060","#DDB12E","#2F8A3C","#7C7C7C","#222222","#B41E1E","#1A2A80","#3B9795","#3A3A3A"]},"legend":null}}},
{"data":{"name":"ntxt"},"mark":{"type":"text","align":"left","baseline":"middle","font":"Noto Sans CJK KR","fontSize":11.5},
"encoding":{
"x":{"field":"i","type":"quantitative","scale":{"domain":[-0.397,123.14],"nice":false,"zero":false,"padding":0}},
"y":{"field":"p","type":"quantitative","scale":{"domain":[2688.3,12852],"nice":false,"zero":false}},
"text":{"field":"t"},
"color":{"field":"k","type":"nominal","scale":{"domain":["up","dn","m5","m10","m20","m60","m120","blk","hi","lo","vol","gry"],"range":["#E3170E","#1C5AC8","#C03CBE","#1B2060","#DDB12E","#2F8A3C","#7C7C7C","#222222","#B41E1E","#1A2A80","#3B9795","#3A3A3A"]},"legend":null}}},
{"data":{"name":"vtxt"},"mark":{"type":"text","align":"left","baseline":"middle","font":"Noto Sans CJK KR","fontSize":11.5},
"encoding":{
"x":{"field":"i","type":"quantitative","scale":{"domain":[-0.397,123.14],"nice":false,"zero":false,"padding":0}},
"y":{"field":"v","type":"quantitative","scale":{"domain":[-241000,61902000],"nice":false,"zero":false}},
"text":{"field":"t"},
"color":{"field":"k","type":"nominal","scale":{"domain":["up","dn","m5","m10","m20","m60","m120","blk","hi","lo","vol","gry"],"range":["#E3170E","#1C5AC8","#C03CBE","#1B2060","#DDB12E","#2F8A3C","#7C7C7C","#222222","#B41E1E","#1A2A80","#3B9795","#3A3A3A"]},"legend":null}}}
]
}
